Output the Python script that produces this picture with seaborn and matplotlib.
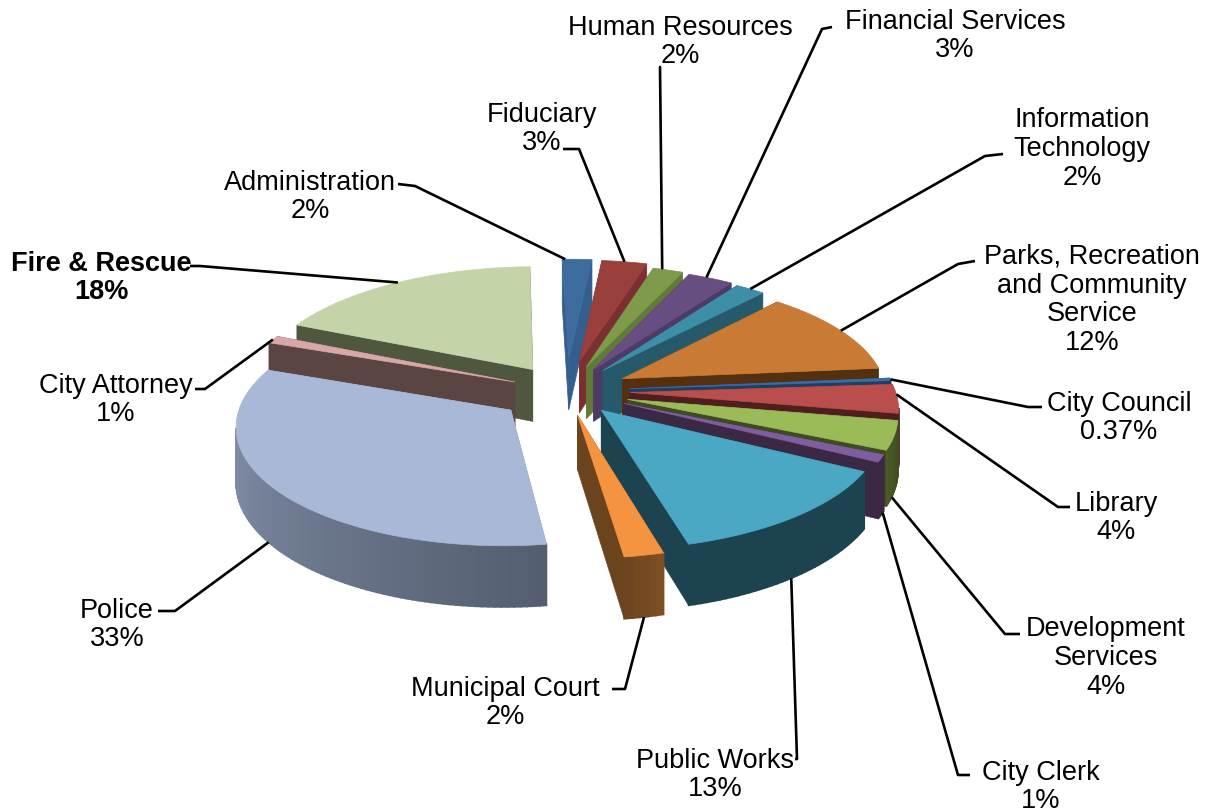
import numpy as np
import seaborn as sns
import matplotlib.pyplot as plt

# budget shares, clockwise from the top
departments = ["Administration", "Fiduciary", "Human Resources", "Financial Services",
               "Information\nTechnology", "Parks, Recreation\nand Community\nService",
               "City Council", "Library", "Development\nServices", "City Clerk",
               "Public Works", "Municipal Court", "Police", "City Attorney", "Fire & Rescue"]
shares = [2, 3, 2, 3, 2, 12, 0.37, 4, 4, 1, 13, 2, 33, 1, 18]
bold_labels = ["Fire & Rescue"]

top_colors = ["#3F6C9E", "#9A403C", "#7E9A4A", "#664E80", "#3D8FA8", "#C97A34", "#3B6CA8", "#BA4E4C",
              "#9BBA58", "#7F5EA0", "#4AA8C4", "#F59440", "#A8B8D6", "#D8A8A8", "#C4D4A8"]
cut_colors = ["#335E8E", "#7A3030", "#627A38", "#4E3A66", "#265A6B", "#54300F", "#1E3F60", "#4F1F1F",
              "#3E4A20", "#3A2845", "#1E4350", "#6B431C", "#8F9DB8", "#5A4543", "#50573F"]
arc_colors = [("#335E8E", "#335E8E"), ("#7A3030", "#7A3030"), ("#627A38", "#627A38"), ("#4E3A66", "#4E3A66"),
              ("#265A6B", "#265A6B"), ("#54300F", "#54300F"), ("#1E3F60", "#1E3F60"), ("#4F1F1F", "#4F1F1F"),
              ("#4A5A26", "#3E4A20"), ("#3A2845", "#3A2845"), ("#1E4350", "#1E4350"), ("#6E4520", "#7C4F24"),
              ("#8F9DB8", "#545E70"), ("#5A4543", "#5A4543"), ("#50573F", "#50573F")]

# label centres, leader elbows and where the leader meets the slice (fraction along arc, fraction of wall)
label_xy = [(310, 197), (542, 129), (680, 42), (955, 36), (1082, 149), (1092, 300), (1119, 418), (1116, 518),
            (1106, 658), (1041, 787), (715, 775), (505, 703), (117, 625), (116, 400), (101, 278)]
line_start = [(398, 185), (563, 150), (659, 68), (832, 28), (1003, 155), (975, 262), (1042, 408), (1070, 508),
              (1020, 635), (970, 776), (795, 760), (612, 690), (158, 612), (195, 390), (190, 267)]
line_elbow = [(415, 187), (579, 150), (660, 68), (822, 30), (985, 157), (958, 265), (1028, 408), (1058, 508),
              (1005, 635), (958, 776), (797, 760), (625, 690), (175, 612), (205, 390), (200, 267)]
line_hit = [(0.1, 0), (0.5, 0), (0.3, 0), (0.4, 0), (0.5, 0), (0.5, 0), (0.5, 0), (0.35, 0),
            (0.7, 1), (0.2, 1), (0.53, 1), (0.5, 1), (0.53, 1), (0.5, 0), (0.5, 0)]

explode = [0.28, 0.26, 0.22, 0.21, 0.22, 0.23, 0.23, 0.23, 0.23, 0.23, 0.2, 0.2, 0.25, 0.2, 0.22]
radius = [0.985, 1.0, 1.0, 1.0, 0.98, 0.95, 0.955, 0.955, 0.955, 0.955, 0.985, 1.0, 0.96, 1.0, 1.0]

CX, CY = 566, 392
R, RS = 278, 120
P = 0.12
DEPTH = 53
ROT = -1.5


def project(px, py):
    w = 1 + P * py
    return CX + R * px / w, CY - RS * py / w, DEPTH / w


sns.set_theme(style="white")
plt.rcParams["font.family"] = ["Liberation Sans", "DejaVu Sans"]

fig = plt.figure(figsize=(12.08, 8.12), dpi=100)
ax = fig.add_axes([0, 0, 1, 1])
ax.set_xlim(0, 1208)
ax.set_ylim(812, 0)
ax.axis("off")

values = np.array(shares, dtype=float)
edges = np.radians(ROT + 360 * np.concatenate([[0], np.cumsum(values)]) / values.sum())
mids = (edges[:-1] + edges[1:]) / 2


def slice_point(i, ang, rad=None):
    rad = radius[i] if rad is None else rad
    ox, oy = explode[i] * np.sin(mids[i]), explode[i] * np.cos(mids[i])
    return project(ox + rad * np.sin(ang), oy + rad * np.cos(ang))


def draw_slice(i):
    angs = np.linspace(edges[i], edges[i + 1], max(4, int(values[i] * 3)))
    ax_, ay_, ad_ = slice_point(i, 0, 0)
    x, y, d = slice_point(i, angs)

    # cut faces, the further one first
    cuts = [(x[0], y[0], d[0]), (x[-1], y[-1], d[-1])]
    cuts.sort(key=lambda c: c[1])
    for cx_, cy_, cd_ in cuts:
        ax.fill([ax_, cx_, cx_, ax_], [ay_, cy_, cy_ + cd_, ay_ + ad_],
                color=cut_colors[i], lw=0.5)

    # outer wall, only the part turned to the viewer
    shades = sns.blend_palette(arc_colors[i], len(angs) - 1)
    for k in range(len(angs) - 1):
        if x[k + 1] < x[k]:
            ax.fill([x[k], x[k + 1], x[k + 1], x[k]],
                    [y[k], y[k + 1], y[k + 1] + d[k + 1], y[k] + d[k]],
                    color=shades[len(angs) - 2 - k], lw=1.2)

    ax.fill(np.r_[ax_, x], np.r_[ay_, y], color=top_colors[i], lw=0.5)


# back to front
for i in np.argsort(-np.cos(mids)):
    draw_slice(i)

for i, name in enumerate(departments):
    f, drop = line_hit[i]
    hx, hy, hd = slice_point(i, edges[i] + f * (edges[i + 1] - edges[i]))
    ax.plot([line_start[i][0], line_elbow[i][0], hx], [line_start[i][1], line_elbow[i][1], hy + drop * hd],
            color="black", lw=1.9, solid_capstyle="butt")
    ax.text(label_xy[i][0], label_xy[i][1], f"{name}\n{shares[i]:g}%", ha="center", va="center",
            fontsize=19.5, color="black", linespacing=1.135,
            fontweight="bold" if name in bold_labels else "normal")

fig.savefig("out.png", dpi=100, facecolor="white")
